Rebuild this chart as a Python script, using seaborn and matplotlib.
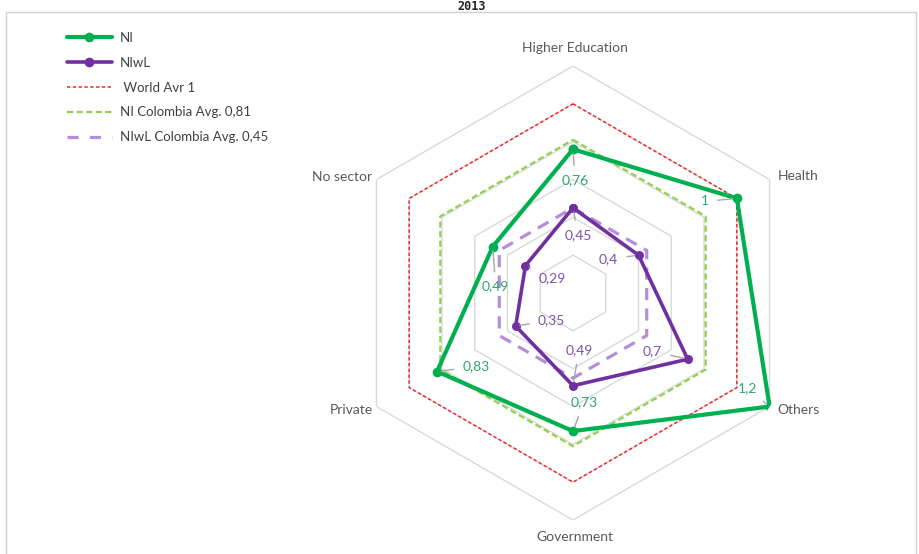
import numpy as np
import matplotlib
matplotlib.use("Agg")
import matplotlib.pyplot as plt
from matplotlib.lines import Line2D
from matplotlib.patches import Rectangle
import seaborn as sns

# Sector categories, clockwise from the top
categories = ["Higher Education", "Health", "Others", "Government", "Private", "No sector"]
ni_values = [0.76, 1.0, 1.2, 0.73, 0.83, 0.49]
niwl_values = [0.45, 0.4, 0.7, 0.49, 0.35, 0.29]
ni_labels = ["0,76", "1", "1,2", "0,73", "0,83", "0,49"]
niwl_labels = ["0,45", "0,4", "0,7", "0,49", "0,35", "0,29"]
world_avg = 1.0
ni_colombia_avg = 0.81
niwl_colombia_avg = 0.45
grid_levels = [0.2, 0.4, 0.6, 0.8, 1.0, 1.2]
r_max = 1.2

sns.set_theme(style="white")
plt.rcParams["font.family"] = ["Lato", "DejaVu Sans"]

W, H = 919, 554
fig = plt.figure(figsize=(W / 100, H / 100), dpi=100)
fig.patch.set_facecolor("white")

# outer frame of the chart area
fig.patches.append(Rectangle((6 / W, -0.05), 910 / W, 1.05 - 12 / H,
                             transform=fig.transFigure, fill=False,
                             edgecolor="#d0d0d0", lw=1.0, zorder=0))
fig.text(472 / W, 1 - 0.5 / H, "2013", ha="center", va="top",
         fontsize=8.5, family="DejaVu Sans Mono", weight="bold", color="#222222")

cx, cy, R = 573, 293, 227
ax = fig.add_axes([(cx - R) / W, (H - cy - R) / H, 2 * R / W, 2 * R / H],
                  projection="polar")
ax.set_theta_offset(np.pi / 2)
ax.set_theta_direction(-1)
ax.spines["polar"].set_visible(False)
ax.grid(False)
ax.set_facecolor("none")

n = len(categories)
theta = np.linspace(0, 2 * np.pi, n, endpoint=False)
theta_closed = np.append(theta, 2 * np.pi)


def closed(vals):
    return np.append(vals, vals[0])


# hexagonal grid
for lvl in grid_levels:
    ax.plot(theta_closed, [lvl] * (n + 1), color="#d9d9d9", lw=1.0, zorder=1)

# reference averages
sns.lineplot(x=theta_closed, y=closed([world_avg] * n), sort=False, estimator=None,
             color="#F0282D", lw=1.1, linestyle=(0, (2.2, 1.6)), ax=ax, zorder=2)
sns.lineplot(x=theta_closed, y=closed([ni_colombia_avg] * n), sort=False, estimator=None,
             color="#92D050", lw=1.6, linestyle=(0, (2.8, 1.5)), ax=ax, zorder=2)
sns.lineplot(x=theta_closed, y=closed([niwl_colombia_avg] * n), sort=False, estimator=None,
             color="#B48EDB", lw=2.3, linestyle=(0, (3.8, 2.6)), ax=ax, zorder=2)

# series
sns.lineplot(x=theta_closed, y=closed(ni_values), sort=False, estimator=None,
             color="#00B050", lw=3.0, marker="o", markersize=7, markeredgewidth=0,
             ax=ax, zorder=4)
sns.lineplot(x=theta_closed, y=closed(niwl_values), sort=False, estimator=None,
             color="#7030A0", lw=2.6, marker="o", markersize=6.5, markeredgewidth=0,
             ax=ax, zorder=5)
ax.set_xlabel("")
ax.set_ylabel("")
ax.set_xticks([])
ax.set_yticks([])
ax.set_ylim(0, r_max)

leader = dict(arrowstyle="-", color="#a6a6a6", lw=1.0, shrinkA=4, shrinkB=3)

ni_offsets = [(2, -31), (-32, -3), (-22, 18), (11, 29), (39, 5), (3, -40)]
for t, v, lab, off in zip(theta, ni_values, ni_labels, ni_offsets):
    ax.annotate(lab, xy=(t, v), xytext=off, textcoords="offset pixels",
                ha="center", va="center", fontsize=10, color="#2FA56F",
                arrowprops=leader, zorder=6)

niwl_offsets = [(5, -27), (-30, -4), (-35, 8), (6, 36), (36, 6), (27, -13)]
for t, v, lab, off in zip(theta, niwl_values, niwl_labels, niwl_offsets):
    ax.annotate(lab, xy=(t, v), xytext=off, textcoords="offset pixels",
                ha="center", va="center", fontsize=10, color="#7B52A6",
                arrowprops=leader, zorder=6)

# category labels around the outer ring
cat_pos = [((2, 18), "center"), ((8, 3), "left"), ((8, -3), "left"),
           ((2, -17), "center"), ((-4, -3), "right"), ((-4, 3), "right")]
for t, cat, (off, ha) in zip(theta, categories, cat_pos):
    ax.annotate(cat, xy=(t, r_max), xytext=off, textcoords="offset pixels",
                ha=ha, va="center", fontsize=10, color="#595959",
                annotation_clip=False)

handles = [
    Line2D([], [], color="#00B050", lw=3.0, marker="o", markersize=7, markeredgewidth=0),
    Line2D([], [], color="#7030A0", lw=2.6, marker="o", markersize=7, markeredgewidth=0),
    Line2D([], [], color="#F0282D", lw=1.1, linestyle=(0, (2.2, 1.6))),
    Line2D([], [], color="#92D050", lw=1.6, linestyle=(0, (2.8, 1.5))),
    Line2D([], [], color="#B48EDB", lw=2.3, linestyle=(0, (3.5, 3.5))),
]
labels = ["NI", "NIwL", " World Avr 1", "NI Colombia Avg. 0,81", "NIwL Colombia Avg. 0,45"]
fig.legend(handles, labels, loc="upper left", bbox_to_anchor=(67 / W, 1 - 32 / H),
           frameon=False, fontsize=9.5, handlelength=3.4, handletextpad=0.6,
           labelspacing=0.97, borderpad=0, borderaxespad=0, numpoints=1,
           labelcolor="#404040")

fig.savefig("out.png", dpi=100)
